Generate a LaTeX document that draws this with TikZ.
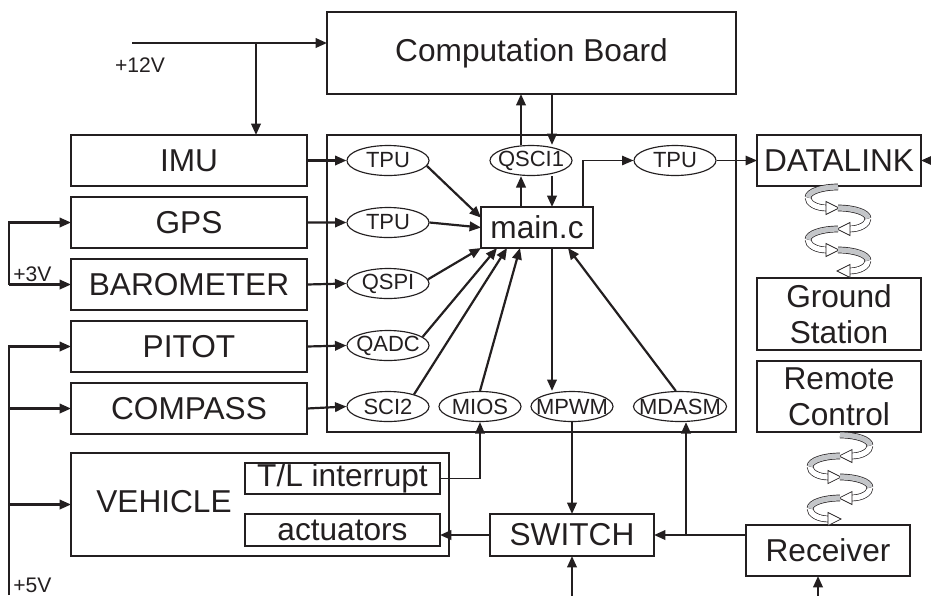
\documentclass[tikz,border=0pt]{standalone}
\usepackage{fontspec}
\setmainfont{Liberation Sans}
\usepackage{tikz}
\usetikzlibrary{arrows.meta,positioning,shapes.geometric,calc}
\definecolor{ink}{HTML}{231F20}
\definecolor{ribbongray}{HTML}{C4C6C9}
\newcommand{\portname}[1]{\makebox[0pt]{#1}}
% twisted radio link, #1 x, #2 top y, #3 first side (1 right, -1 left)
\newcommand{\wlink}[3]{%
  \foreach \k in {0,1,2,3}{%
    \pgfmathsetmacro{\sd}{#3*(1-2*mod(\k,2))}%
    \pgfmathsetmacro{\yt}{#2+21*\k}%
    \draw[ribbonline, double=white] ({#1+\sd*30},{\yt+10.5}) .. controls ({#1+\sd*30},{\yt+16.3}) and ({#1+\sd*22},{\yt+21}) .. ({#1+\sd*11},{\yt+21});
    \draw[ribbonline, double=ribbongray] (#1,\yt) .. controls ({#1+\sd*16.6},\yt) and ({#1+\sd*30},{\yt+4.7}) .. ({#1+\sd*30},{\yt+10.5});
    \draw[coilhead] ({#1-\sd*1},{\yt+21}) -- ({#1+\sd*12},{\yt+14.5}) -- ({#1+\sd*12},{\yt+27.5}) -- cycle;
  }%
}
\tikzset{
  box/.style={draw=ink, line width=0.75pt, minimum width=4.72cm, minimum height=1.02cm,
              font=\fontsize{18}{20.5}\selectfont, text=ink, align=center,
              inner sep=0pt, outer sep=0pt},
  port/.style={draw=ink, ellipse, line width=0.65pt, minimum width=1.64cm, minimum height=0.6cm,
               inner sep=0pt, font=\fontsize{12.5}{13}\selectfont, text=ink},
  flow/.style={-{Triangle[length=6.5pt,width=5.4pt]}, line width=1.25pt, draw=ink},
  thinflow/.style={-{Triangle[length=6.5pt,width=5.4pt]}, line width=0.8pt, draw=ink},
  thinwire/.style={line width=0.8pt, draw=ink},
  volt/.style={font=\fontsize{12}{13}\selectfont, text=ink, inner sep=0pt},
  ribbonline/.style={draw=ink, line width=0.4pt, double distance=3pt},
  coilhead/.style={draw=ink, fill=white, line width=0.4pt, line join=miter}
}

\begin{document}
\begin{tikzpicture}[x=0.2mm, y=-0.2mm]
    \useasboundingbox (0,0) rectangle (931,595);

    % boards
    \node[box, minimum width=8.18cm, minimum height=1.64cm] (cb) at (531.5,53) {Computation Board};
    \node[box, minimum width=8.18cm, minimum height=5.94cm] (mcu) at (531.5,283.5) {};
    \node[box, minimum width=2.24cm, minimum height=0.82cm] (main) at (537,227.5) {main.c};

    % sensors
    \node[box] (imu) at (189,160.5) {IMU};
    \node[box, below=0.22cm of imu] (gps) {GPS};
    \node[box, below=0.22cm of gps] (baro) {BAROMETER};
    \node[box, below=0.22cm of baro] (pitot) {PITOT};
    \node[box, below=0.22cm of pitot] (compass) {COMPASS};

    % vehicle
    \node[box, minimum width=7.56cm, minimum height=2.06cm] (vehicle) at (260,504.5) {};
    \node[box, draw=none, minimum width=0pt, minimum height=0pt] (vehname) at (164,502) {VEHICLE};
    \node[box, minimum width=3.9cm, minimum height=0.62cm] (tlint) at (342.5,478.5) {T/L interrupt};
    \node[box, minimum width=3.9cm, minimum height=0.64cm] (act) at (342.5,530) {actuators};
    \node[box, minimum width=3.28cm, minimum height=0.84cm] (switch) at (572,535) {SWITCH};

    % radio side
    \node[box, minimum width=3.28cm] (dl) at (839,160.5) {DATALINK};
    \node[box, minimum width=3.28cm, minimum height=1.44cm] (ground) at (839,314) {Ground\\Station};
    \node[box, minimum width=3.28cm, minimum height=1.42cm, below=0.22cm of ground] (remote) {Remote\\Control};
    \node[box, minimum width=3.28cm] (receiver) at (828,550.5) {Receiver};

    % ports
    \node[port] (tpuA) at (388,160.5) {\portname{TPU}};
    \node[port] (tpuB) at (388,222.5) {\portname{TPU}};
    \node[port] (qspi) at (388,283.5) {\portname{QSPI}};
    \node[port] (qadc) at (388,345.5) {\portname{QADC}};
    \node[port] (sci) at (388,406.5) {\portname{SCI2}};
    \node[port] (mios) at (480,406.5) {\portname{MIOS}};
    \node[port] (mpwm) at (572,406.5) {\portname{MPWM}};
    \node[port, minimum width=1.86cm] (mdasm) at (680,406.5) {\portname{MDASM}};
    \node[port] (qsci) at (531,160.5) {\portname{QSCI1}};
    \node[port] (tpuC) at (675,160.5) {\portname{TPU}};

    % supplies
    \coordinate (v12) at (132,43);
    \coordinate (v12tap) at (256,43);
    \coordinate (v3) at (9,250);
    \coordinate (v5) at (9,595);
    \coordinate (swin) at (572,600);
    \coordinate (rxin) at (818,600);
    \coordinate (dlin) at (935,160.5);
    \coordinate (rxtap) at (686,535);
    \coordinate (mup) at ($(main.north)+(-16,0)$);
    \coordinate (mdown) at ($(main.north)+(15,0)$);

    \draw[thinwire] (v12) -- (v12tap);
    \draw[flow] (v12tap) -- (v12tap -| cb.west);
    \draw[flow] (v12tap) -- (v12tap |- imu.north);
    \node[volt] (l12) at (140,65) {+12V};

    \draw[flow] (v3 |- baro.west) -- (v3 |- gps.west) -- (gps.west);
    \draw[flow] (v3 |- baro.west) -- (baro.west);
    \node[volt, anchor=base west] (l3) at (13,281) {+3V};

    \draw[flow] (v5) |- (pitot.west);
    \draw[flow] (v5 |- compass.west) -- (compass.west);
    \draw[flow] (v5 |- vehicle.west) -- (vehicle.west);
    \node[volt, anchor=base west] (l5) at (13,592) {+5V};

    % sensors to ports
    \draw[flow] (imu.east) -- (tpuA.west);
    \draw[flow] (gps.east) -- (tpuB.west);
    \draw[flow] (baro.east) -- (qspi.west);
    \draw[flow] (pitot.east) -- (qadc.west);
    \draw[flow] (compass.east) -- (sci.west);

    % ports to main.c
    \draw[flow] (tpuA.-8) -- (main.170);
    \draw[flow] (tpuB.east) -- (main.west);
    \draw[flow] (qspi.6) -- (main.south west);
    \draw[flow] (qadc.14) -- ($(main.south west)+(16,0)$);
    \draw[flow] (sci.25) -- ($(main.south west)+(26,0)$);
    \draw[flow] (mios.north) -- ($(main.south west)+(39,0)$);
    \draw[flow] (mdasm.105) -- ($(main.south east)+(-25,0)$);
    \draw[flow] (mdown |- main.south) -- (mdown |- mpwm.north);

    % serial link to the board
    \draw[flow] (mup) -- (mup |- qsci.south);
    \draw[flow] (mdown |- qsci.south) -- (mdown);
    \draw[flow] (mup |- qsci.north) -- (mup |- cb.south);
    \draw[flow] (mdown |- cb.south) -- (mdown |- qsci.north);
    \draw[thinflow] ($(main.north east)+(-10,0)$) |- (tpuC.west);
    \draw[thinflow] (tpuC.east) -- (dl.west);
    \draw[flow] (dlin) -- (dl.east);

    % actuation path
    \draw[thinflow] (tlint.east) -| (mios.south);
    \draw[flow] (mpwm.south) -- (switch.north);
    \draw[flow] (swin) -- (switch.south);
    \draw[flow] (switch.west) -- (switch.west -| act.east);
    \draw[flow] (receiver.west |- switch.east) -- (switch.east);
    \draw[flow] (rxtap) -- (rxtap |- mdasm.south);
    \draw[flow] (rxin) -- (rxin |- receiver.south);

    % radio links
    \wlink{838}{187}{-1}
    \wlink{840}{435}{1}
\end{tikzpicture}
\end{document}
